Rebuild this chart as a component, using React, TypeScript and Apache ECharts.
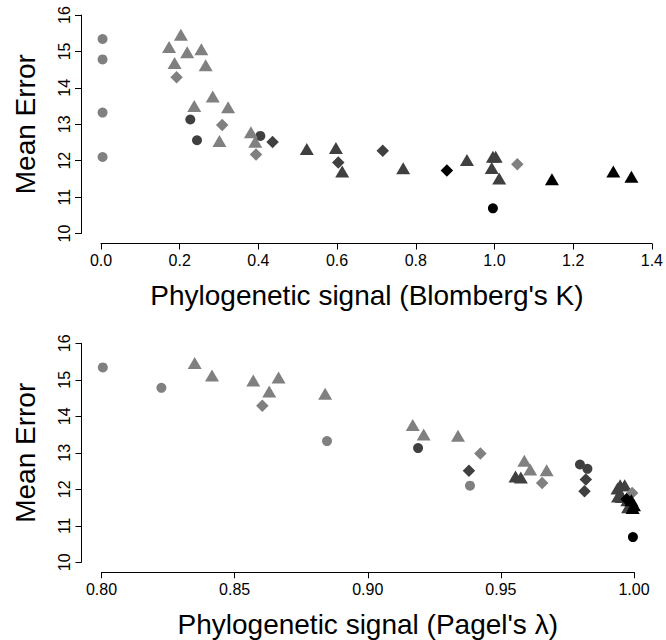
import React, { useEffect, useRef } from "react";
import * as echarts from "echarts";

// ---- Data (K = Blomberg's K, L = Pagel's lambda, E = Mean Error) ----
const lightCircleK = [0.004, 0.004, 0.004, 0.004];
const lightCircleL = [0.8005, 0.8225, 0.8847, 0.9384];
const lightCircleE = [15.34, 14.78, 13.32, 12.1];

const darkCircleK = [0.227, 0.244, 0.405];
const darkCircleL = [0.9189, 0.9825, 0.9797];
const darkCircleE = [13.13, 12.56, 12.68];

const blackCircleK = [0.996];
const blackCircleL = [0.9996];
const blackCircleE = [10.69];

const lightTriK = [0.203, 0.173, 0.219, 0.255, 0.187, 0.266, 0.284, 0.237, 0.323, 0.381, 0.301, 0.392];
const lightTriL = [0.835, 0.8415, 0.857, 0.8665, 0.863, 0.884, 0.9169, 0.921, 0.9339, 0.9588, 0.961, 0.9672];
const lightTriE = [15.46, 15.12, 14.98, 15.06, 14.68, 14.62, 13.76, 13.5, 13.47, 12.78, 12.54, 12.52];

const lightDiaK = [0.192, 0.308, 0.394, 1.058];
const lightDiaL = [0.8604, 0.9423, 0.9655, 0.9993];
const lightDiaE = [14.29, 12.98, 12.17, 11.9];

const darkDiaK = [0.436, 0.716, 0.603];
const darkDiaL = [0.938, 0.9819, 0.9814];
const darkDiaE = [12.51, 12.27, 11.95];

const darkTriK = [0.523, 0.597, 0.613, 0.768, 0.93, 0.996, 1.003, 0.993, 1.012];
const darkTriL = [0.9575, 0.9555, 0.9975, 0.9955, 0.9938, 0.9948, 0.9965, 0.994, 0.9978];
const darkTriE = [12.32, 12.35, 11.7, 11.79, 12.02, 12.11, 12.11, 11.8, 11.51];

const blackDiaK = [0.879];
const blackDiaL = [0.9972];
const blackDiaE = [11.73];

const blackTriK = [1.146, 1.302, 1.348];
const blackTriL = [0.9995, 0.999, 1.0];
const blackTriE = [11.49, 11.7, 11.56];

const kTicks = { min: 0, max: 1.4, interval: 0.2 };
const lTicks = { min: 0.8, max: 1.0, interval: 0.05 };
const eTicks = { min: 10, max: 16, interval: 1 };

const LIGHT = "#808080";
const DARK = "#404040";
const BLACK = "#000000";
const FONT = "'Liberation Sans', Arial, Helvetica, sans-serif";

type Group = { K: number[]; L: number[]; E: number[]; color: string; symbol: string; size: number | number[] };

const groups: Group[] = [
  { K: darkTriK, L: darkTriL, E: darkTriE, color: DARK, symbol: "triangle", size: [14, 12] },
  { K: darkDiaK, L: darkDiaL, E: darkDiaE, color: DARK, symbol: "diamond", size: [12.5, 12.5] },
  { K: darkCircleK, L: darkCircleL, E: darkCircleE, color: DARK, symbol: "circle", size: 10 },
  { K: lightCircleK, L: lightCircleL, E: lightCircleE, color: LIGHT, symbol: "circle", size: 10 },
  { K: lightTriK, L: lightTriL, E: lightTriE, color: LIGHT, symbol: "triangle", size: [14, 12] },
  { K: lightDiaK, L: lightDiaL, E: lightDiaE, color: LIGHT, symbol: "diamond", size: [12.5, 12.5] },
  { K: blackDiaK, L: blackDiaL, E: blackDiaE, color: BLACK, symbol: "diamond", size: [12.5, 12.5] },
  { K: blackTriK, L: blackTriL, E: blackTriE, color: BLACK, symbol: "triangle", size: [14, 12] },
  { K: blackCircleK, L: blackCircleL, E: blackCircleE, color: BLACK, symbol: "circle", size: 10 },
];

function xAxisOpt(gridIndex: number, ticks: any, digits: number, name: string, namePadRight: number) {
  return {
    type: "value",
    gridIndex,
    min: ticks.min,
    max: ticks.max,
    interval: ticks.interval,
    offset: 10,
    axisLine: { show: true, onZero: false, lineStyle: { color: "#000", width: 1 } },
    axisTick: { show: true, length: 6, lineStyle: { color: "#000", width: 1 } },
    axisLabel: {
      color: "#000",
      fontSize: 16,
      fontFamily: FONT,
      margin: 9,
      formatter: (v: number) => v.toFixed(digits),
    },
    splitLine: { show: false },
    name,
    nameLocation: "middle",
    nameGap: 38,
    nameTextStyle: { color: "#000", fontSize: 28, fontFamily: FONT, padding: [0, namePadRight, 0, 0] },
  };
}

function yAxisOpt(gridIndex: number) {
  return {
    type: "value",
    gridIndex,
    min: eTicks.min,
    max: eTicks.max,
    interval: eTicks.interval,
    offset: 20,
    axisLine: { show: true, onZero: false, lineStyle: { color: "#000", width: 1 } },
    axisTick: { show: true, length: 6, lineStyle: { color: "#000", width: 1 } },
    axisLabel: {
      color: "#000",
      fontSize: 16,
      fontFamily: FONT,
      margin: 9,
      rotate: 90,
    },
    splitLine: { show: false },
    name: "Mean Error",
    nameLocation: "middle",
    nameGap: 42,
    nameTextStyle: { color: "#000", fontSize: 28, fontFamily: FONT },
  };
}

export default function App() {
  const ref = useRef<HTMLDivElement>(null);
  useEffect(() => {
    if (!ref.current) return;
    const chart = echarts.init(ref.current, undefined, { renderer: "svg" });
    const series: any[] = [];
    groups.forEach((g) => {
      series.push({
        type: "scatter",
        xAxisIndex: 0,
        yAxisIndex: 0,
        symbol: g.symbol,
        symbolSize: g.size,
        clip: false,
        itemStyle: { color: g.color, opacity: 1 },
        data: g.K.map((k, i) => [k, g.E[i]]),
      });
      series.push({
        type: "scatter",
        xAxisIndex: 1,
        yAxisIndex: 1,
        symbol: g.symbol,
        symbolSize: g.size,
        clip: false,
        itemStyle: { color: g.color, opacity: 1 },
        data: g.L.map((l, i) => [l, g.E[i]]),
      });
    });
    chart.setOption({
      animation: false,
      backgroundColor: "#ffffff",
      grid: [
        { left: 101, top: 15, width: 553, height: 218.5 },
        { left: 101.5, top: 343.3, width: 532.5, height: 219 },
      ],
      xAxis: [
        xAxisOpt(0, kTicks, 1, "Phylogenetic signal (Blomberg's K)", 19),
        xAxisOpt(1, lTicks, 2, "Phylogenetic signal (Pagel's λ)", 0),
      ],
      yAxis: [yAxisOpt(0), yAxisOpt(1)],
      series,
    });
    return () => chart.dispose();
  }, []);
  return (
    <div
      ref={ref}
      style={{ position: "absolute", left: 0, top: 0, width: 666, height: 640, background: "#fff" }}
    />
  );
}
